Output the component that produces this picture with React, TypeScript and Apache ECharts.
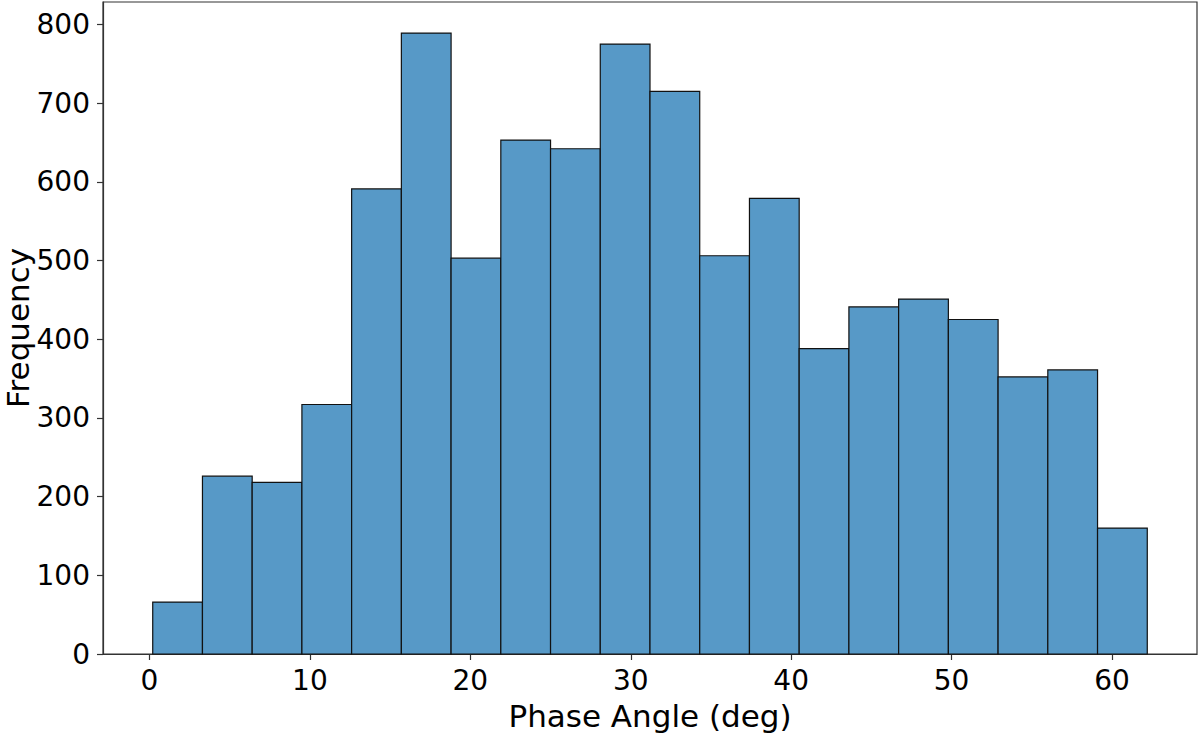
import React, { useEffect, useRef } from "react";
import * as echarts from "echarts";

// Histogram bin edges (deg) and counts per bin
const binEdges = [
  0.2, 3.3, 6.4, 9.5, 12.6, 15.7, 18.8, 21.9, 25.0, 28.1, 31.2, 34.3, 37.4,
  40.5, 43.6, 46.7, 49.8, 52.9, 56.0, 59.1, 62.2,
];
const counts = [
  66, 226, 218, 317, 591, 789, 503, 653, 642, 775, 715, 506, 579, 388, 441,
  451, 425, 352, 361, 160,
];
const xTicks = [0, 10, 20, 30, 40, 50, 60];
const yTicks = [0, 100, 200, 300, 400, 500, 600, 700, 800];

const FONT = "DejaVu Sans";

export default function App() {
  const ref = useRef<HTMLDivElement>(null);

  useEffect(() => {
    document.body.style.margin = "0";
    if (!ref.current) return;
    const chart = echarts.init(ref.current, undefined, { renderer: "svg" });

    const bins = counts.map((c, i) => [binEdges[i], binEdges[i + 1], c]);
    const span = binEdges[binEdges.length - 1] - binEdges[0];
    const xMin = binEdges[0] - span * 0.05;
    const xMax = binEdges[binEdges.length - 1] + span * 0.05;
    const yMax = Math.max(...counts) * 1.05;

    chart.setOption({
      animation: false,
      backgroundColor: "#ffffff",
      textStyle: { fontFamily: FONT },
      grid: {
        left: 103,
        right: 3,
        top: 2,
        bottom: 80,
        outerBoundsMode: "none",
        containLabel: false,
        show: true,
        borderColor: "#333",
        borderWidth: 1.2,
        backgroundColor: "transparent",
      },
      xAxis: {
        type: "value",
        min: xMin,
        max: xMax,
        name: "Phase Angle (deg)",
        nameLocation: "middle",
        nameGap: 46,
        nameMoveOverlap: false,
        nameTextStyle: { fontFamily: FONT, fontSize: 31, color: "#000" },
        axisLine: { show: true, onZero: false, lineStyle: { color: "#333", width: 1.2 } },
        axisTick: {
          show: true,
          length: 6,
          customValues: xTicks,
          lineStyle: { color: "#333", width: 1.2 },
        },
        axisLabel: {
          customValues: xTicks,
          fontFamily: FONT,
          fontSize: 28,
          color: "#000",
          margin: 12,
        },
        splitLine: { show: false },
      },
      yAxis: {
        type: "value",
        min: 0,
        max: yMax,
        name: "Frequency",
        nameLocation: "middle",
        nameGap: 70,
        nameRotate: 90,
        nameMoveOverlap: false,
        nameTextStyle: { fontFamily: FONT, fontSize: 31, color: "#000" },
        axisLine: { show: true, onZero: false, lineStyle: { color: "#333", width: 1.2 } },
        axisTick: {
          show: true,
          length: 6,
          customValues: yTicks,
          lineStyle: { color: "#333", width: 1.2 },
        },
        axisLabel: {
          customValues: yTicks,
          fontFamily: FONT,
          fontSize: 28,
          color: "#000",
          margin: 13,
        },
        splitLine: { show: false },
      },
      series: [
        {
          type: "custom",
          data: bins,
          encode: { x: [0, 1], y: 2 },
          renderItem: (params: any, api: any) => {
            const start = api.value(0);
            const end = api.value(1);
            const count = api.value(2);
            const p0 = api.coord([start, count]);
            const p1 = api.coord([end, 0]);
            return {
              type: "rect",
              shape: {
                x: p0[0],
                y: p0[1],
                width: p1[0] - p0[0],
                height: p1[1] - p0[1],
              },
              style: {
                fill: "#5799c7",
                stroke: "#111",
                lineWidth: 1.2,
              },
            };
          },
        },
      ],
    });

    return () => chart.dispose();
  }, []);

  return <div ref={ref} style={{ width: 1200, height: 734 }} />;
}
